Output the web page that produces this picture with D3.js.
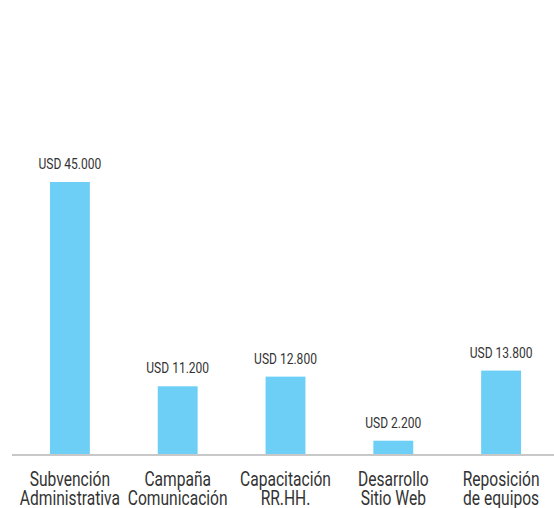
<!DOCTYPE html>
<html>
<head>
<meta charset="utf-8">
<script src="https://cdn.jsdelivr.net/npm/d3@7"></script>
<style>
    body { margin: 0; background: #fff; }
    svg { display: block; font-family: "Roboto", "Liberation Sans", sans-serif; }
</style>
</head>
<body>
<svg id="chart"></svg>
<script>
const categories = [
    ['Subvención', 'Administrativa'],
    ['Campaña', 'Comunicación'],
    ['Capacitación', 'RR.HH.'],
    ['Desarrollo', 'Sitio Web'],
    ['Reposición', 'de equipos'],
];
const amounts = [45000, 11200, 12800, 2200, 13800];
const amountLabels = ['USD 45.000', 'USD 11.200', 'USD 12.800', 'USD 2.200', 'USD 13.800'];

const width = 554;
const height = 508;
const baseY = 454;

const svg = d3.select('#chart')
    .attr('width', width)
    .attr('height', height);

const idx = d3.range(categories.length);

const x = d3.scaleBand()
    .domain(idx)
    .range([16, 555])
    .paddingInner(0.63)
    .paddingOuter(0.315);

const y = d3.scaleLinear()
    .domain([0, 45000])
    .range([baseY, 182]);

const cx = (i) => x(i) + x.bandwidth() / 2;

svg.selectAll('rect.bar')
    .data(idx)
    .enter()
    .append('rect')
    .attr('class', 'bar')
    .attr('x', (i) => x(i))
    .attr('y', (i) => y(amounts[i]))
    .attr('width', x.bandwidth())
    .attr('height', (i) => baseY - y(amounts[i]))
    .attr('fill', '#6dcff6');

// condensed look: squeeze the text horizontally
svg.selectAll('text.value')
    .data(idx)
    .enter()
    .append('text')
    .attr('class', 'value')
    .attr('transform', (i) => `translate(${cx(i)},${y(amounts[i]) - 13}) scale(0.86,1)`)
    .attr('text-anchor', 'middle')
    .attr('font-size', 14)
    .attr('fill', '#333')
    .text((i) => amountLabels[i]);

// baseline
svg.append('line')
    .attr('x1', 12)
    .attr('x2', width)
    .attr('y1', baseY + 1)
    .attr('y2', baseY + 1)
    .attr('stroke', '#c8c8c8')
    .attr('stroke-width', 2);

const cat = svg.selectAll('text.cat')
    .data(idx)
    .enter()
    .append('text')
    .attr('class', 'cat')
    .attr('transform', (i) => `translate(${cx(i)},0) scale(0.8,1)`)
    .attr('text-anchor', 'middle')
    .attr('font-size', 19.5)
    .attr('fill', '#333');

cat.each(function (i) {
    const t = d3.select(this);
    categories[i].forEach((line, k) => {
        t.append('tspan')
            .attr('x', 0)
            .attr('y', 486 + k * 19.5)
            .text(line);
    });
});
</script>
</body>
</html>
